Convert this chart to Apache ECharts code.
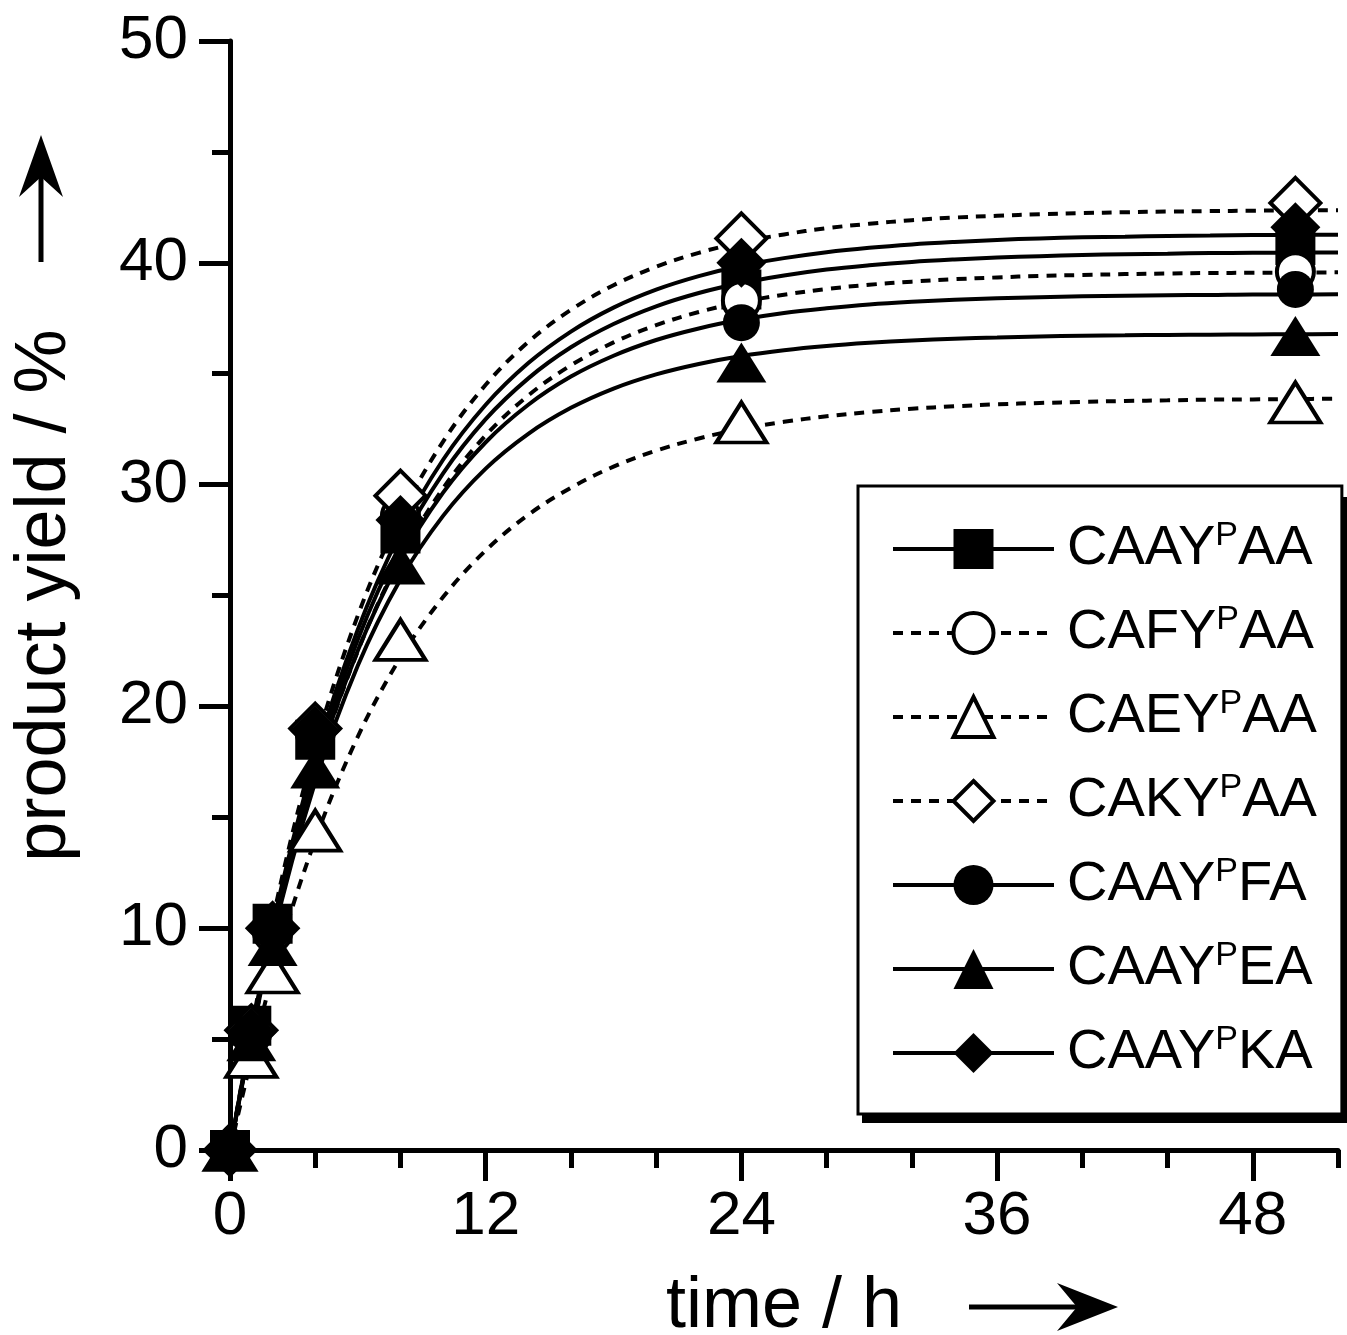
<!DOCTYPE html>
<html>
<head>
<meta charset="utf-8">
<script src="https://cdn.jsdelivr.net/npm/echarts@6/dist/echarts.min.js"></script>
<style>
html,body{margin:0;padding:0;background:#fff;}
#chart{width:1347px;height:1335px;}
</style>
</head>
<body>
<div id="chart"></div>
<script>
// ---- data ----
const names = ['CAAYPAA', 'CAFYPAA', 'CAEYPAA', 'CAKYPAA', 'CAAYPFA', 'CAAYPEA', 'CAAYPKA'];
const times = [0, 1, 2, 4, 8, 24, 50];
const yAA = [0, 5.6, 10.2, 18.5, 27.8, 38.8, 40.8];
const yFY = [0, 5.2, 9.8, 18.8, 28.6, 38.3, 39.6];
const yEY = [0, 4.2, 8.0, 14.4, 23.0, 32.8, 33.7];
const yKY = [0, 5.4, 10.0, 19.0, 29.5, 41.1, 42.7];
const yFA = [0, 5.3, 9.9, 18.6, 28.0, 37.3, 38.8];
const yEA = [0, 4.9, 9.2, 17.2, 26.4, 35.5, 36.7];
const yKA = [0, 5.3, 10.0, 18.9, 28.4, 40.0, 41.6];

// fitted curves, sampled (every 2 h) from the picture
const fitT = [0, 2, 4, 6, 8, 10, 12, 14, 16, 18, 20, 22, 24, 26, 28, 30, 32, 34, 36, 38, 40, 42, 44, 46, 48, 50, 52];
const fitAA = [0, 9.89, 17.37, 23.02, 27.29, 30.51, 32.95, 34.79, 36.19, 37.24, 38.04, 38.64, 39.09, 39.43, 39.70, 39.89, 40.04, 40.15, 40.24, 40.30, 40.35, 40.39, 40.41, 40.44, 40.45, 40.46, 40.47];
const fitFY = [0, 9.67, 16.98, 22.50, 26.68, 29.83, 32.22, 34.02, 35.38, 36.41, 37.19, 37.78, 38.23, 38.56, 38.82, 39.01, 39.15, 39.26, 39.34, 39.41, 39.45, 39.49, 39.52, 39.54, 39.55, 39.56, 39.57];
const fitEY = [0, 7.92, 13.99, 18.64, 22.20, 24.93, 27.03, 28.64, 29.86, 30.81, 31.53, 32.08, 32.51, 32.83, 33.08, 33.27, 33.42, 33.53, 33.62, 33.68, 33.73, 33.77, 33.80, 33.83, 33.84, 33.86, 33.87];
const fitKY = [0, 10.35, 18.18, 24.10, 28.57, 31.94, 34.50, 36.43, 37.88, 38.99, 39.82, 40.45, 40.93, 41.28, 41.56, 41.76, 41.92, 42.04, 42.12, 42.19, 42.24, 42.28, 42.31, 42.33, 42.35, 42.36, 42.37];
const fitFA = [0, 9.77, 17.07, 22.52, 26.60, 29.64, 31.91, 33.60, 34.87, 35.81, 36.52, 37.04, 37.44, 37.74, 37.95, 38.12, 38.24, 38.33, 38.40, 38.45, 38.49, 38.52, 38.54, 38.55, 38.57, 38.57, 38.58];
const fitEA = [0, 9.54, 16.60, 21.84, 25.72, 28.59, 30.72, 32.29, 33.46, 34.33, 34.97, 35.44, 35.80, 36.06, 36.25, 36.39, 36.50, 36.58, 36.63, 36.68, 36.71, 36.73, 36.75, 36.76, 36.77, 36.78, 36.79];
const fitKA = [0, 10.09, 17.71, 23.47, 27.82, 31.12, 33.60, 35.48, 36.90, 37.98, 38.79, 39.40, 39.87, 40.21, 40.48, 40.68, 40.83, 40.94, 41.03, 41.10, 41.15, 41.18, 41.21, 41.23, 41.25, 41.26, 41.27];

const xMajorTicks = [0, 12, 24, 36, 48];
const xMinorTicks = [4, 8, 16, 20, 28, 32, 40, 44, 52];

// ---- styles ----
const pointSets = [yAA, yFY, yEY, yKY, yFA, yEA, yKA];
const fitSets = [fitAA, fitFY, fitEY, fitKY, fitFA, fitEA, fitKA];
const symbols = ['rect', 'circle', 'triangle', 'diamond', 'circle', 'triangle', 'diamond'];
const symbolSizes = [40, 37, [50, 40], [50, 50], 37, [50, 40], [50, 50]];
const openMarker = [false, true, true, true, false, false, false];
const dashed = [false, true, true, true, false, false, false];
const FONT = '"Liberation Sans", Arial, Helvetica, sans-serif';

function markerStyle(i) {
  return openMarker[i]
    ? { color: '#fff', borderColor: '#000', borderWidth: 4, opacity: 1 }
    : { color: '#000', borderColor: '#000', borderWidth: 0, opacity: 1 };
}

const series = [];
names.forEach((n, i) => {
  series.push({
    name: n,
    type: 'line',
    data: fitT.map((t, k) => [t, fitSets[i][k]]),
    smooth: 0.35,
    symbol: symbols[i],
    showSymbol: false,
    clip: false,
    z: 2,
    silent: true,
    itemStyle: markerStyle(i),
    lineStyle: { color: '#000', width: 4, type: dashed[i] ? [10, 8] : 'solid', cap: 'butt' },
    emphasis: { disabled: true }
  });
});
names.forEach((n, i) => {
  series.push({
    name: n + ' data',
    type: 'scatter',
    data: times.map((t, k) => [t, pointSets[i][k]]),
    symbol: symbols[i],
    symbolSize: symbolSizes[i],
    clip: false,
    z: 5,
    itemStyle: markerStyle(i),
    emphasis: { disabled: true }
  });
});

const legendData = names.map((n, i) => ({
  name: n,
  itemStyle: openMarker[i] ? { borderWidth: 4, borderColor: '#000', color: '#fff', opacity: 1 } : { borderWidth: 0, color: '#000', opacity: 1 }
}));

const chart = echarts.init(document.getElementById('chart'), null, { renderer: 'canvas' });
chart.setOption({
  animation: false,
  backgroundColor: '#fff',
  grid: { left: 230, right: 9, top: 41, bottom: 185, containLabel: false, outerBoundsMode: 'none' },
  xAxis: [{
    type: 'value', min: 0, max: 52, position: 'bottom',
    name: 'time / h', nameLocation: 'middle', nameGap: 121,
    nameTextStyle: { fontFamily: FONT, fontSize: 72, color: '#000' },
    axisLine: { show: true, onZero: false, lineStyle: { color: '#000', width: 5 } },
    axisTick: { show: true, customValues: xMajorTicks, length: 31, lineStyle: { color: '#000', width: 5 } },
    axisLabel: { show: true, customValues: xMajorTicks, margin: 36, fontFamily: FONT, fontSize: 62, color: '#000' },
    splitLine: { show: false }
  }, {
    type: 'value', min: 0, max: 52, position: 'bottom',
    axisLine: { show: false },
    axisTick: { show: true, customValues: xMinorTicks, length: 18, lineStyle: { color: '#000', width: 5 } },
    axisLabel: { show: false },
    splitLine: { show: false }
  }],
  yAxis: {
    type: 'value', min: 0, max: 50, interval: 10,
    name: 'product yield / %', nameLocation: 'middle', nameGap: 149, nameRotate: 90,
    nameTextStyle: { fontFamily: FONT, fontSize: 72, color: '#000' },
    axisLine: { show: true, onZero: false, lineStyle: { color: '#000', width: 5 } },
    axisTick: { show: true, length: 31, lineStyle: { color: '#000', width: 5 } },
    minorTick: { show: true, splitNumber: 2, length: 18, lineStyle: { color: '#000', width: 5 } },
    axisLabel: { margin: 42, fontFamily: FONT, fontSize: 62, color: '#000' },
    splitLine: { show: false }
  },
  legend: {
    orient: 'vertical',
    left: 858, top: 486,
    padding: [33, 25, 33, 33],
    itemGap: 26,
    itemWidth: 161,
    itemHeight: 50,
    borderColor: '#000', borderWidth: 3, borderRadius: 0,
    backgroundColor: '#fff',
    selectedMode: false,
    data: legendData,
    lineStyle: { width: 4 },
    formatter: n => '{g|}{n|' + n.slice(0, 4) + '}{s|P}{n|' + n.slice(5) + '}',
    textStyle: {
      rich: {
        g: { width: 8 },
        n: { fontFamily: FONT, fontSize: 56, lineHeight: 60, color: '#000' },
        s: { fontFamily: FONT, fontSize: 34, lineHeight: 44, verticalAlign: 'top', color: '#000' }
      }
    }
  },
  graphic: [
    { type: 'rect', z: -10, shape: { x: 862, y: 497, width: 490, height: 626 }, style: { fill: '#000' } },
    { type: 'line', shape: { x1: 41, y1: 262, x2: 41, y2: 170 }, style: { stroke: '#000', lineWidth: 5 } },
    { type: 'polygon', shape: { points: [[41, 135], [63, 197], [41, 177], [19, 197]] }, style: { fill: '#000' } },
    { type: 'line', shape: { x1: 969, y1: 1307, x2: 1090, y2: 1307 }, style: { stroke: '#000', lineWidth: 5 } },
    { type: 'polygon', shape: { points: [[1118, 1307], [1057, 1283], [1077, 1307], [1057, 1331]] }, style: { fill: '#000' } }
  ],
  series: series
});
</script>
</body>
</html>
